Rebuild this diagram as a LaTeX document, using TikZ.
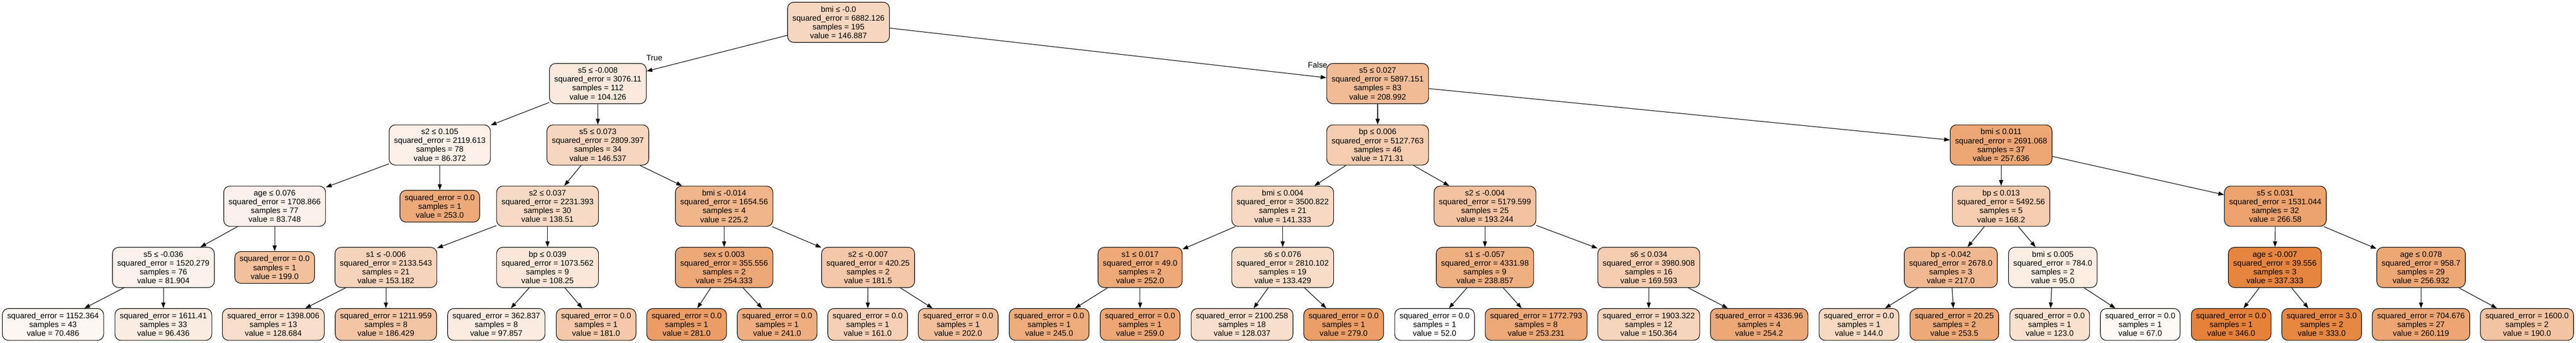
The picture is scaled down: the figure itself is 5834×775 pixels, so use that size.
\documentclass[tikz,border=0pt]{standalone}
\usepackage{fontspec}
\setmainfont{Liberation Sans}
\usepackage{tikz}
\usetikzlibrary{arrows.meta,shapes}
\definecolor{leafbase}{RGB}{229,129,57}
\tikzstyle{tree node}=[draw=black, line width=0.65pt, rounded corners=7pt, align=center, inner xsep=5.5pt, inner ysep=0pt, font=\fontsize{9}{10}\selectfont]
\tikzstyle{split node}=[tree node, minimum height=45.5pt]
\tikzstyle{leaf node}=[tree node, minimum height=36pt]
\tikzstyle{edge} = [draw,line width=0.65pt,-{Triangle[length=6.5pt,width=4.6pt]}]
\tikzstyle{note} = [draw=none, inner sep=0pt, font=\fontsize{9}{10}\selectfont]

\begin{document}
\begin{tikzpicture}[x=0.5pt, y=-0.5pt]
	\path[use as bounding box, fill=white] (0,0) rectangle (5834,775);
	% First we draw the split nodes
	\foreach \pos/\label/\test/\err/\num/\val in {
		{(1899,50.5)/0/bmi ≤ -0.0/6882.126/195/146.887},
		{(1354,189)/1/s5 ≤ -0.008/3076.11/112/104.126},
		{(996,328)/2/s2 ≤ 0.105/2119.613/78/86.372},
		{(622,466.5)/3/age ≤ 0.076/1708.866/77/83.748},
		{(370,605)/4/s5 ≤ -0.036/1520.279/76/81.904},
		{(1354,328)/9/s5 ≤ 0.073/2809.397/34/146.537},
		{(1240,466.5)/10/s2 ≤ 0.037/2231.393/30/138.51},
		{(874,605)/11/s1 ≤ -0.006/2133.543/21/153.182},
		{(1240,605)/14/bp ≤ 0.039/1073.562/9/108.25},
		{(1640,466.5)/17/bmi ≤ -0.014/1654.56/4/225.2},
		{(1640,605)/18/sex ≤ 0.003/355.556/2/254.333},
		{(1966,605)/21/s2 ≤ -0.007/420.25/2/181.5},
		{(3120,189)/24/s5 ≤ 0.027/5897.151/83/208.992},
		{(3120,328)/25/bp ≤ 0.006/5127.763/46/171.31},
		{(2905,466.5)/26/bmi ≤ 0.004/3500.822/21/141.333},
		{(2582,605)/27/s1 ≤ 0.017/49.0/2/252.0},
		{(2905,605)/30/s6 ≤ 0.076/2810.102/19/133.429},
		{(3363,466.5)/33/s2 ≤ -0.004/5179.599/25/193.244},
		{(3363,605)/34/s1 ≤ -0.057/4331.98/9/238.857},
		{(3734,605)/37/s6 ≤ 0.034/3980.908/16/169.593},
		{(4532,328)/40/bmi ≤ 0.011/2691.068/37/257.636},
		{(4532,466.5)/41/bp ≤ 0.013/5492.56/5/168.2},
		{(4418,605)/42/bp ≤ -0.042/2678.0/3/217.0},
		{(4649,605)/45/bmi ≤ 0.005/784.0/2/95.0},
		{(5153,466.5)/48/s5 ≤ 0.031/1531.044/32/266.58},
		{(5152,605)/49/age ≤ -0.007/39.556/3/337.333},
		{(5483,605)/52/age ≤ 0.078/958.7/29/256.932}}
	{
		\pgfmathsetmacro\pct{(\val-52)/2.94}
		\node[split node, fill=leafbase!\pct] (\label) at \pos {\test\\squared\_error = \err\\samples = \num\\value = \val};
	}
	
	% Then the leaves
	\foreach \pos/\label/\err/\num/\val in {
		{(120,734)/5/1152.364/43/70.486},
		{(370,734)/6/1611.41/33/96.436},
		{(622,605)/7/0.0/1/199.0},
		{(996,466.5)/8/0.0/1/253.0},
		{(619,734)/12/1398.006/13/128.684},
		{(874,734)/13/1211.959/8/186.429},
		{(1124,734)/15/362.837/8/97.857},
		{(1350,734)/16/0.0/1/181.0},
		{(1555,734)/19/0.0/1/281.0},
		{(1760,734)/20/0.0/1/241.0},
		{(1965,734)/22/0.0/1/161.0},
		{(2170,734)/23/0.0/1/202.0},
		{(2376,734)/28/0.0/1/245.0},
		{(2582,734)/29/0.0/1/259.0},
		{(2813,734)/31/2100.258/18/128.037},
		{(3043,734)/32/0.0/1/279.0},
		{(3249,734)/35/0.0/1/52.0},
		{(3479,734)/36/1772.793/8/253.231},
		{(3734,734)/38/1903.322/12/150.364},
		{(3984,734)/39/4336.96/4/254.2},
		{(4210,734)/43/0.0/1/144.0},
		{(4426,734)/44/20.25/2/253.5},
		{(4642,734)/46/0.0/1/123.0},
		{(4847,734)/47/0.0/1/67.0},
		{(5053,734)/50/0.0/1/346.0},
		{(5258,734)/51/3.0/2/333.0},
		{(5483,734)/53/704.676/27/260.119},
		{(5723,734)/54/1600.0/2/190.0}}
	{
		\pgfmathsetmacro\pct{(\val-52)/2.94}
		\node[leaf node, fill=leafbase!\pct] (\label) at \pos {squared\_error = \err\\samples = \num\\value = \val};
	}
	
	% Connect nodes with edges
	\foreach \source/ \dest in {
		0/1, 0/24, 1/2, 1/9, 2/3, 2/8, 3/4, 3/7, 4/5, 4/6, 9/10, 9/17, 10/11, 10/14,
		11/12, 11/13, 14/15, 14/16, 17/18, 17/21, 18/19, 18/20, 21/22, 21/23,
		24/25, 24/40, 25/26, 25/33, 26/27, 26/30, 27/28, 27/29, 30/31, 30/32,
		33/34, 33/37, 34/35, 34/36, 37/38, 37/39, 40/41, 40/48, 41/42, 41/45,
		42/43, 42/44, 45/46, 45/47, 48/49, 48/52, 49/50, 49/51, 52/53, 52/54}
	\path[edge] (\source) -- (\dest);
	
	% True / False labels
	\node[note] (true) at (1482,131) {True};
	\node[note] (false) at (2984,147) {False};
\end{tikzpicture}
\end{document}
